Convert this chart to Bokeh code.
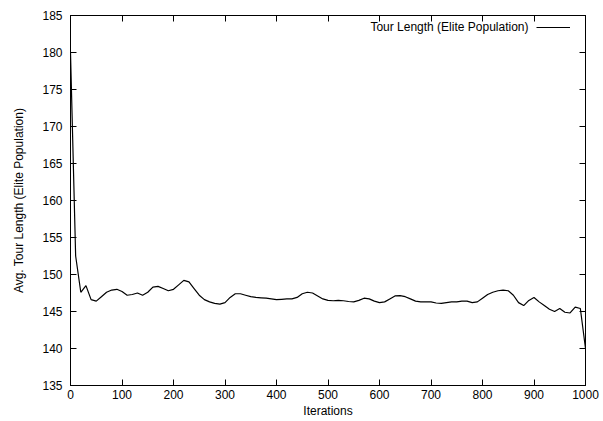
from bokeh.plotting import figure
from bokeh.models import (LinearAxis, Range1d, Label, Legend, LegendItem,
                          FixedTicker, CustomLabelingPolicy)
from bokeh.embed import file_html
from bokeh.resources import INLINE

# Average tour length of the elite population, sampled every 10 iterations
iterations = list(range(0, 1001, 10))
avg_tour_length = [
    180.0, 152.5, 147.6, 148.5, 146.6, 146.4, 147.0, 147.6, 147.9, 148.0,
    147.7, 147.2, 147.3, 147.5, 147.2, 147.6, 148.3, 148.4, 148.1, 147.8,
    148.0, 148.6, 149.2, 149.0, 148.1, 147.2, 146.6, 146.3, 146.1, 146.0,
    146.2, 146.9, 147.4, 147.4, 147.2, 147.0, 146.9, 146.85, 146.8, 146.7,
    146.6, 146.65, 146.7, 146.7, 146.9, 147.4, 147.6, 147.5, 147.1, 146.7,
    146.5, 146.45, 146.5, 146.45, 146.35, 146.3, 146.5, 146.8, 146.7, 146.4,
    146.2, 146.3, 146.7, 147.1, 147.15, 147.0, 146.7, 146.4, 146.3, 146.3,
    146.3, 146.15, 146.1, 146.2, 146.3, 146.3, 146.4, 146.4, 146.2, 146.3,
    146.8, 147.3, 147.6, 147.8, 147.9, 147.8, 147.2, 146.2, 145.8, 146.5,
    146.9, 146.3, 145.8, 145.3, 145.0, 145.4, 144.9, 144.8, 145.6, 145.4,
    140.0,
]

x_ticks = list(range(0, 1001, 100))
y_ticks = list(range(135, 186, 5))

FONT = "Liberation Sans"
SIZE = "12px"

p = figure(
    width=603, height=421,
    x_range=Range1d(0, 1000), y_range=Range1d(135, 185),
    output_backend="svg", toolbar_location=None,
    min_border_left=70, min_border_right=18,
    min_border_top=15, min_border_bottom=36,
)
p.background_fill_color = "white"
p.border_fill_color = "white"
p.outline_line_color = "black"
p.outline_line_width = 1
p.xgrid.visible = False
p.ygrid.visible = False

line = p.line(iterations, avg_tour_length, line_color="black", line_width=1.2)

# Labeling policy that keeps no labels (for the mirrored tick-only axes)
no_labels = CustomLabelingPolicy(code="""
    const ks = Array.from(indices)
    for (const i of ks) indices.unset(i)
    return indices
""")

def style_axis(ax, ticks, show_labels=True):
    ax.ticker = FixedTicker(ticks=ticks)
    ax.major_tick_in = 6
    ax.major_tick_out = 0
    ax.minor_tick_line_color = None
    ax.axis_line_color = "black"
    ax.major_tick_line_color = "black"
    ax.major_label_text_font = FONT
    ax.major_label_text_font_size = SIZE
    ax.major_label_text_color = "black"
    ax.axis_label_text_font = FONT
    ax.axis_label_text_font_size = SIZE
    ax.axis_label_text_font_style = "normal"
    ax.axis_label_text_color = "black"
    if not show_labels:
        ax.major_label_policy = no_labels
        ax.major_label_text_font_size = "1px"
        ax.major_label_standoff = 0

style_axis(p.xaxis[0], x_ticks)
style_axis(p.yaxis[0], y_ticks)
p.xaxis[0].axis_label = "Iterations"
p.xaxis[0].major_label_standoff = 4
p.xaxis[0].axis_label_standoff = 2
p.yaxis[0].axis_label = "Avg. Tour Length (Elite Population)"
p.yaxis[0].major_label_standoff = 8
p.yaxis[0].axis_label_standoff = 13

# Mirrored tick marks on the top and right borders
top_axis = LinearAxis()
right_axis = LinearAxis()
style_axis(top_axis, x_ticks, show_labels=False)
style_axis(right_axis, y_ticks, show_labels=False)
p.add_layout(top_axis, "above")
p.add_layout(right_axis, "right")

# Key: text on the left, line sample on the right
legend = Legend(
    items=[LegendItem(label=" ", renderers=[line])],
    location=(466, 353),
    glyph_width=34, glyph_height=10,
    label_width=0, padding=0, margin=0, spacing=0,
    background_fill_alpha=0, border_line_color=None,
    label_text_font_size="1px",
)
p.add_layout(legend, "center")
p.add_layout(Label(
    x=458, y=359, x_units="screen", y_units="screen",
    text="Tour Length (Elite Population)",
    text_font=FONT, text_font_size=SIZE, text_align="right",
    text_baseline="middle", text_color="black",
))

open("out.html", "w").write(file_html(p, INLINE))
